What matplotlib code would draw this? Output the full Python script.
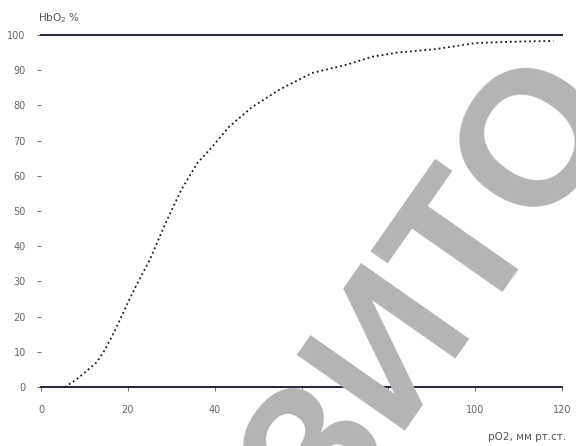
import matplotlib.pyplot as plt

# Кривая диссоциации оксигемоглобина
po2 = [5.5, 8, 10, 12.8, 14.7, 17, 20.3, 22, 25, 28.7, 32.3, 34.1, 36, 39.4,
       43.3, 48.6, 54.8, 62.4, 70.2, 76.2, 82, 91, 100, 106, 112, 118]
sat = [0, 2, 4, 7, 10.5, 16, 24.7, 29, 36, 46.6, 56, 59.7, 63.6, 68.2,
       73.9, 79.5, 84.4, 89.2, 91.5, 93.8, 95, 96, 97.7, 98, 98.2, 98.3]

x_ticks = [0, 20, 40, 60, 80, 100, 120]
y_ticks = [0, 10, 20, 30, 40, 50, 60, 70, 80, 90, 100]

fig = plt.figure(figsize=(5.76, 4.46), dpi=100)
ax = fig.add_axes([41 / 576, 1 - 387 / 446, 521 / 576, 352 / 446])

ax.plot(po2, sat, linestyle=":", color="#1a1a1a", linewidth=1.3)
ax.axhline(100, color="#22223a", linewidth=1.4, clip_on=False)
ax.axhline(0, color="#22223a", linewidth=1.4, clip_on=False)

ax.set_xlim(0, 120)
ax.set_ylim(0, 100)
ax.set_xticks(x_ticks)
ax.set_yticks(y_ticks)
ax.tick_params(axis="both", length=3, color="#777777", labelcolor="#666666",
               labelsize=7)
ax.tick_params(axis="x", pad=10)
ax.tick_params(axis="y", pad=8)
for s in ax.spines.values():
    s.set_visible(False)

fig.text(38 / 576, 1 - 18 / 446, "HbO$_2$ %", fontsize=7.5, color="#555555",
         ha="left", va="center")
fig.text(566 / 576, 1 - 437 / 446, "pO2, мм рт.ст.", fontsize=7.5,
         color="#555555", ha="right", va="center")

# водяной знак
fig.text(0.757, 0.342, "ЗИТО", fontsize=138, fontweight="bold",
         family="Liberation Sans", color="#b4b4b4",
         rotation=55, ha="center", va="center", zorder=10)

fig.savefig("out.png", dpi=100)
